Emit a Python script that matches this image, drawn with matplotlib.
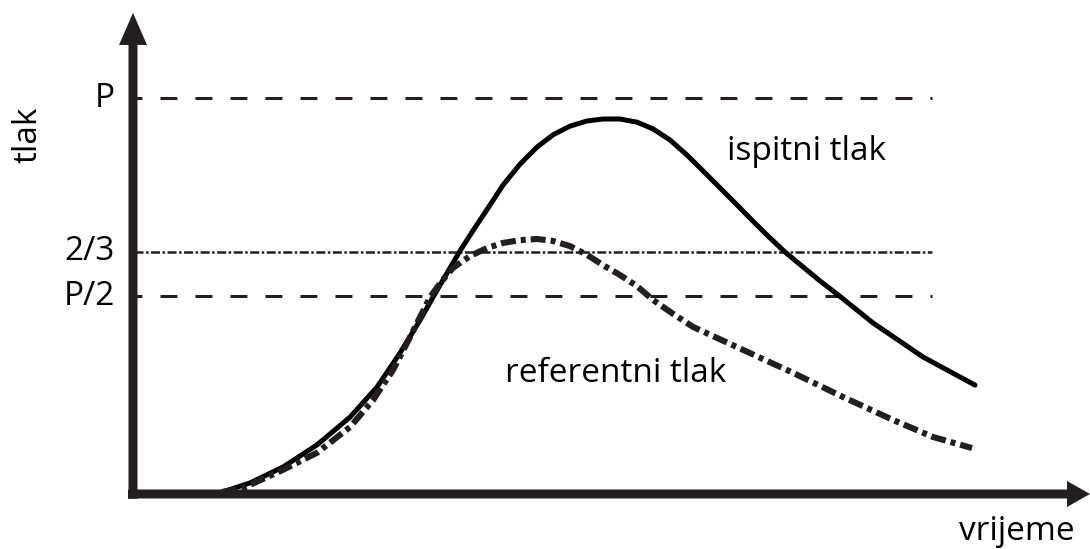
import matplotlib
matplotlib.use("Agg")
import matplotlib.pyplot as plt
from matplotlib.patches import FancyArrow

plt.rcParams['font.family'] = ['Open Sans', 'DejaVu Sans']
plt.rcParams['lines.scale_dashes'] = False

# ---- data (time in arbitrary units, pressure as fraction of P) ----
t_ispitni = [0.86, 1.16, 1.49, 1.83, 2.16, 2.43, 2.66, 2.86, 2.99, 3.26, 3.40, 3.54,
             3.69, 3.86, 4.03, 4.19, 4.36, 4.53, 4.69, 4.86, 5.03, 5.19, 5.36, 5.53,
             5.69, 5.86, 6.03, 6.19, 6.35, 6.51, 6.86, 7.03, 7.39, 7.89, 8.41]
p_ispitni = [0.003, 0.028, 0.068, 0.124, 0.194, 0.270, 0.356, 0.439, 0.497, 0.614, 0.669, 0.722,
             0.780, 0.833, 0.876, 0.907, 0.929, 0.942, 0.947, 0.947, 0.939, 0.922, 0.894, 0.856,
             0.816, 0.773, 0.730, 0.689, 0.649, 0.611, 0.538, 0.505, 0.432, 0.346, 0.275]

t_ref = [0.88, 1.09, 1.49, 1.83, 2.16, 2.39, 2.59, 2.76, 2.96, 3.07, 3.19, 3.36, 3.53,
         3.69, 3.86, 4.03, 4.19, 4.36, 4.53, 4.69, 4.86, 5.03, 5.19, 5.39, 5.59, 6.09,
         6.59, 7.09, 7.59, 7.99, 8.38]
p_ref = [0.005, 0.015, 0.061, 0.104, 0.169, 0.237, 0.313, 0.396, 0.497, 0.535, 0.571, 0.601, 0.621,
         0.634, 0.641, 0.644, 0.639, 0.626, 0.604, 0.578, 0.553, 0.525, 0.490, 0.455, 0.422, 0.364,
         0.306, 0.245, 0.187, 0.144, 0.116]

level_values = [1.0, 0.612, 0.5]
level_labels = ['P', '2/3', 'P/2']
level_end = 7.98

series_labels = ['ispitni tlak', 'referentni tlak']
y_label = 'tlak'
x_label = 'vrijeme'

# ---- figure ----
fig = plt.figure(figsize=(10.9, 5.49), dpi=100)
ax = fig.add_axes([0, 0, 1, 1])
ax.set_xlim(-1.34, 9.56)
ax.set_ylim(-0.1389, 1.2475)
ax.axis('off')

axc = '#231f20'

# reference levels
styles = [(6.5, (12.2, 13.0)), (0, (6.5, 1.8, 1.8, 1.8)), (6.5, (12.2, 13.0))]
widths = [2.2, 1.8, 2.2]
for val, ls, lw in zip(level_values, styles, widths):
    ax.plot([0, level_end], [val, val], color=axc, lw=lw, linestyle=ls,
            dash_capstyle='butt', zorder=1)
for val, lab in zip(level_values, level_labels):
    ax.text(-0.19, val, lab, ha='right', va='center', fontsize=24, color='black')

# curves
ax.plot(t_ispitni, p_ispitni, color='black', lw=3.6, solid_capstyle='round',
        solid_joinstyle='round', zorder=3)
ax.plot(t_ref, p_ref, color=axc, lw=4.4, linestyle=(0, (10.8, 3.6, 3.6, 3.6)),
        dash_capstyle='butt', dash_joinstyle='round', zorder=3)

# axes with arrows
ax.add_patch(FancyArrow(-0.01, -0.012, 0, 1.227, width=0.09, head_width=0.28,
                        head_length=0.081, length_includes_head=True,
                        color=axc, lw=0, clip_on=False, zorder=4))
ax.add_patch(FancyArrow(-0.06, 0.0, 9.62, 0, width=0.0227, head_width=0.0657,
                        head_length=0.23, length_includes_head=True,
                        color=axc, lw=0, clip_on=False, zorder=4))

# texts
ax.text(5.93, (494 - 160) / 396, series_labels[0], ha='left', va='baseline',
        fontsize=24, color='black')
ax.text(3.71, (494 - 382) / 396, series_labels[1], ha='left', va='baseline',
        fontsize=24, color='black')
ax.text(-1.06, (494 - 135) / 396, y_label, rotation=90, ha='center', va='center',
        fontsize=24, color='black')
ax.text(9.41, (494 - 540) / 396, x_label, ha='right', va='baseline',
        fontsize=24, color='black')

fig.savefig('out.png', dpi=100)
